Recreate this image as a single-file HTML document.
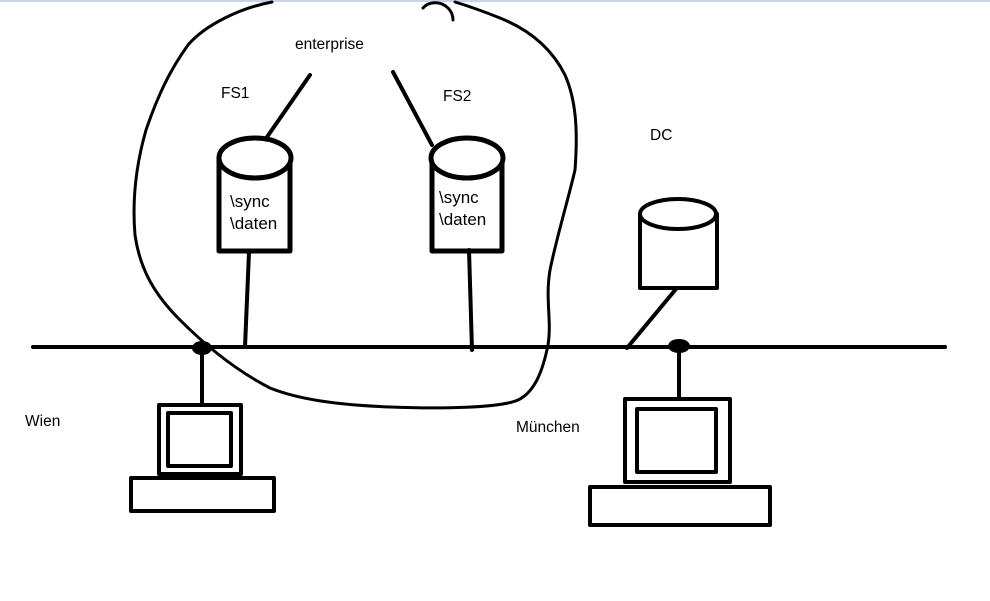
<!DOCTYPE html>
<html><head><meta charset="utf-8"><style>
html,body{margin:0;padding:0;background:#fff;width:990px;height:601px;overflow:hidden}
svg{display:block}
text{font-family:"Liberation Sans",sans-serif;font-size:15.5px;fill:#000}
.c{font-size:17px}
</style></head><body>
<svg width="990" height="601" viewBox="0 0 990 601">
<rect x="0" y="0" width="990" height="2" fill="#c8d4e6"/>
<g fill="none" stroke="#000" stroke-linecap="round" stroke-linejoin="round">
<path d="M272,2 C240,8 205,25 188,45 C170,70 158,95 146,130 C136,165 132,200 135,235 C140,270 155,295 180,320 C205,345 235,370 270,388 C300,400 340,405 390,407 C440,409 500,408 518,400 C535,392 543,370 548,345 C552,320 545,300 550,270 C556,240 568,200 575,170 C578,130 576,100 565,75 C550,45 525,28 500,18 C480,10 465,5 455,2" stroke-width="3"/>
<path d="M423,8 C428,2 440,0 448,8 C452,12 453,16 453,20" stroke-width="3"/>
<line x1="33" y1="347" x2="945" y2="347" stroke-width="4"/>
<rect x="219" y="158" width="71" height="93" stroke-width="5"/>
<ellipse cx="255" cy="158" rx="36" ry="20" fill="#fff" stroke-width="5"/>
<line x1="267" y1="137" x2="310" y2="75" stroke-width="4"/>
<line x1="249" y1="252" x2="245" y2="347" stroke-width="4"/>
<rect x="432" y="158" width="70" height="93" stroke-width="5"/>
<ellipse cx="467" cy="158" rx="36" ry="20" fill="#fff" stroke-width="5"/>
<line x1="432" y1="145" x2="393" y2="72" stroke-width="4"/>
<line x1="469" y1="250" x2="472" y2="350" stroke-width="4"/>
<rect x="640" y="214" width="77" height="74" stroke-width="4"/>
<ellipse cx="678" cy="214" rx="38" ry="15" fill="#fff" stroke-width="4"/>
<line x1="676" y1="289" x2="627" y2="348" stroke-width="4"/>
<line x1="202" y1="347" x2="202" y2="403" stroke-width="4"/>
<rect x="159" y="405" width="82" height="69" stroke-width="4"/>
<rect x="168" y="413" width="63" height="53" stroke-width="4"/>
<rect x="131" y="478" width="143" height="33" stroke-width="4"/>
<line x1="679" y1="347" x2="679" y2="397" stroke-width="4"/>
<rect x="625" y="399" width="105" height="83" stroke-width="4"/>
<rect x="637" y="409" width="79" height="63" stroke-width="4"/>
<rect x="590" y="487" width="180" height="38" stroke-width="4"/>
</g>
<ellipse cx="202" cy="348" rx="10" ry="7" fill="#000"/>
<ellipse cx="679" cy="346" rx="11" ry="7" fill="#000"/>
<text x="295" y="49">enterprise</text>
<text x="221" y="98">FS1</text>
<text x="443" y="101">FS2</text>
<text x="650" y="140">DC</text>
<text class="c" x="230" y="207">\sync</text>
<text class="c" x="230" y="229">\daten</text>
<text class="c" x="439" y="203">\sync</text>
<text class="c" x="439" y="225">\daten</text>
<text x="25" y="426">Wien</text>
<text x="516" y="432">München</text>
</svg>
</body></html>
